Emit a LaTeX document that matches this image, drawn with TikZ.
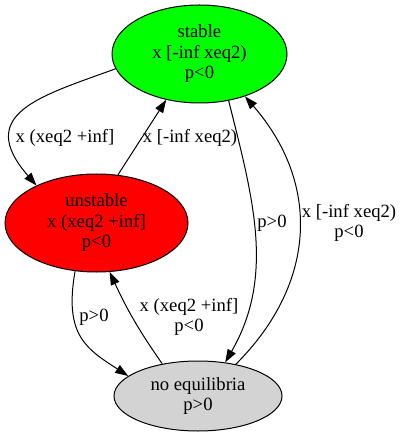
\documentclass[tikz,border=0pt]{standalone}
\usepackage{fontspec}
\setmainfont{Liberation Serif}
\usetikzlibrary{shapes.geometric}
\usetikzlibrary{arrows.meta}

\begin{document}
\begin{tikzpicture}[
		x=1pt, y=-1pt,
		every node/.style={
			font=\fontsize{18.67}{20.5}\selectfont,
			align=center,
			inner sep=0pt
		},
		state/.style 2 args={ellipse, draw, line width=1pt, fill=#1, minimum width=#2},
		edge/.style={line width=1pt, -{Triangle[length=13pt,width=9pt]}}
	]

	\useasboundingbox (0,0) rectangle (402,438);

	\definecolor{stablegreen}{RGB}{0,255,0}
	\definecolor{unstablered}{RGB}{255,0,0}
	\definecolor{noeqgray}{RGB}{211,211,211}

	% states
	\node[state={stablegreen}{175pt}, minimum height=98pt] (stable) at (199.5,54) {stable\\x [-inf xeq2)\\p<0};
	\node[state={unstablered}{183pt}, minimum height=98pt] (unstable) at (96.5,223) {unstable\\x (xeq2 +inf]\\p<0};
	\node[state={noeqgray}{168pt}, minimum height=70pt] (noeq) at (198,396) {no equilibria\\p>0};

	% transitions
	\draw[edge] (stable.190) to[out=200, in=131, out distance=80pt, in distance=95pt] (unstable.148);
	\draw[edge] (unstable.66) -- (stable.234);
	\draw[edge] (stable.302) to[out=-76, in=60, distance=100pt] (noeq.51);
	\draw[edge] (noeq.40) to[out=45, in=-49, distance=115pt] (stable.317);
	\draw[edge] (unstable.246) to[out=-100, in=147, out distance=65pt, in distance=50pt] (noeq.164);
	\draw[edge] (noeq.138) to[out=125, in=-65] (unstable.285);

	% labels
	\node (l1) at (65,138) {x (xeq2 +inf]};
	\node (l2) at (190,138) {x [-inf xeq2)};
	\node (l3) at (272,223) {p>0};
	\node (l4) at (349,223) {x [-inf xeq2)\\p<0};
	\node (l5) at (94,317) {p>0};
	\node (l6) at (189,317) {x (xeq2 +inf]\\p<0};

\end{tikzpicture}
\end{document}
